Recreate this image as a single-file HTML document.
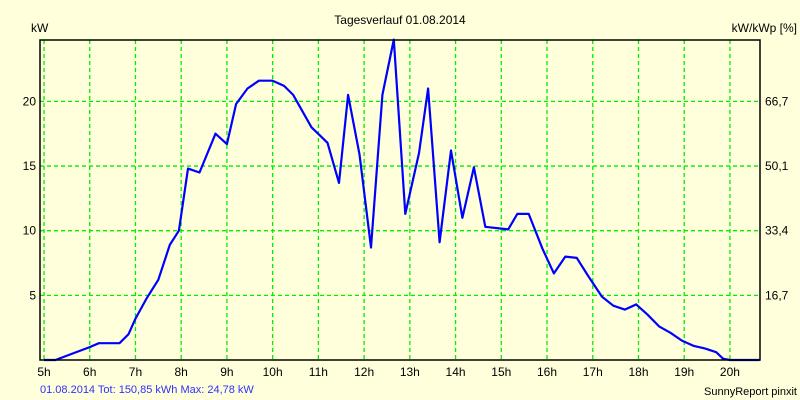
<!DOCTYPE html>
<html><head><meta charset="utf-8"><style>
body{margin:0;background:#ffffdc;}
svg{display:block;font-family:"Liberation Sans",sans-serif;}
</style></head><body>
<svg id="chart" width="800" height="400" viewBox="0 0 800 400">
<rect x="0" y="0" width="800" height="400" fill="#ffffdc"/>
<text x="400" y="24" text-anchor="middle" font-size="12" fill="#000">Tagesverlauf 01.08.2014</text>
<text x="31" y="32" font-size="12" fill="#000">kW</text>
<text x="797" y="32" text-anchor="end" font-size="12" fill="#000">kW/kWp [%]</text>
<g id="grid"></g><g id="ticks"></g>
<path id="line" fill="none" stroke="#0000ff" stroke-width="2.2" stroke-linejoin="round"/>
<rect x="40" y="40" width="720" height="320" fill="none" stroke="#000" stroke-width="1.5"/>
<text x="40" y="393" font-size="11" fill="#3030ff">01.08.2014 Tot: 150,85 kWh Max: 24,78 kW</text>
<text x="797" y="395" text-anchor="end" font-size="11" fill="#000">SunnyReport pinxit</text>
</svg>
<script>
const hours=[5,5.25,6,6.2,6.65,6.85,7,7.25,7.5,7.75,7.95,8.15,8.4,8.75,9,9.2,9.45,9.7,10,10.25,10.45,10.85,11.2,11.45,11.65,11.9,12.15,12.4,12.65,12.9,13.2,13.4,13.65,13.9,14.15,14.4,14.65,15.15,15.35,15.6,15.9,16.15,16.4,16.65,16.9,17.2,17.45,17.7,17.95,18.2,18.45,18.7,18.95,19.2,19.45,19.7,19.85,20,20.65];
const powerKw=[0,0,1.0,1.3,1.3,2.0,3.2,4.8,6.2,8.9,10.0,14.8,14.5,17.5,16.7,19.8,21.0,21.6,21.6,21.2,20.5,18.0,16.8,13.7,20.5,15.9,8.7,20.5,24.78,11.3,16.0,21.0,9.1,16.2,11.0,14.9,10.3,10.1,11.3,11.3,8.6,6.7,8.0,7.9,6.5,4.9,4.2,3.9,4.3,3.5,2.6,2.1,1.5,1.1,0.9,0.6,0.1,0,0];
const hourTicks=[5,6,7,8,9,10,11,12,13,14,15,16,17,18,19,20];
const kwTicks=[5,10,15,20];
const pctLabels=["16,7","33,4","50,1","66,7"];
const NS="http://www.w3.org/2000/svg";
function xs(h){return 44+(h-5)*45.73;}
function ys(v){return 360-v*12.93;}
const grid=document.getElementById('grid'),ticks=document.getElementById('ticks');
function mk(tag,attrs,parent,text){const e=document.createElementNS(NS,tag);for(const k in attrs)e.setAttribute(k,attrs[k]);if(text!==undefined)e.textContent=text;parent.appendChild(e);return e;}
hourTicks.forEach(h=>{
 const l=mk('line',{x1:xs(h),x2:xs(h),y1:40,y2:360,stroke:'#00ee00','stroke-width':1.3,'stroke-dasharray':'4,3'},grid);
 
 
 const t=mk('text',{x:xs(h),y:376,'text-anchor':'middle','font-size':12,fill:'#000'},ticks,h+'h');
 
 
});
kwTicks.forEach((v,i)=>{
 const l=mk('line',{x1:40,x2:760,y1:ys(v),y2:ys(v),stroke:'#00ee00','stroke-width':1.3,'stroke-dasharray':'4,3'},grid);
 
 
 const t=mk('text',{x:36,y:ys(v)+4,'text-anchor':'end','font-size':12,fill:'#000'},ticks,String(v));
 
 
 const r=mk('text',{x:765,y:ys(v)+4,'font-size':12,fill:'#000'},ticks,pctLabels[i]);
 
 
});
document.getElementById('line').setAttribute('d',hours.map((h,i)=>(i?'L':'M')+xs(h).toFixed(1)+','+ys(powerKw[i]).toFixed(1)).join(' '));
</script>
</body></html>
